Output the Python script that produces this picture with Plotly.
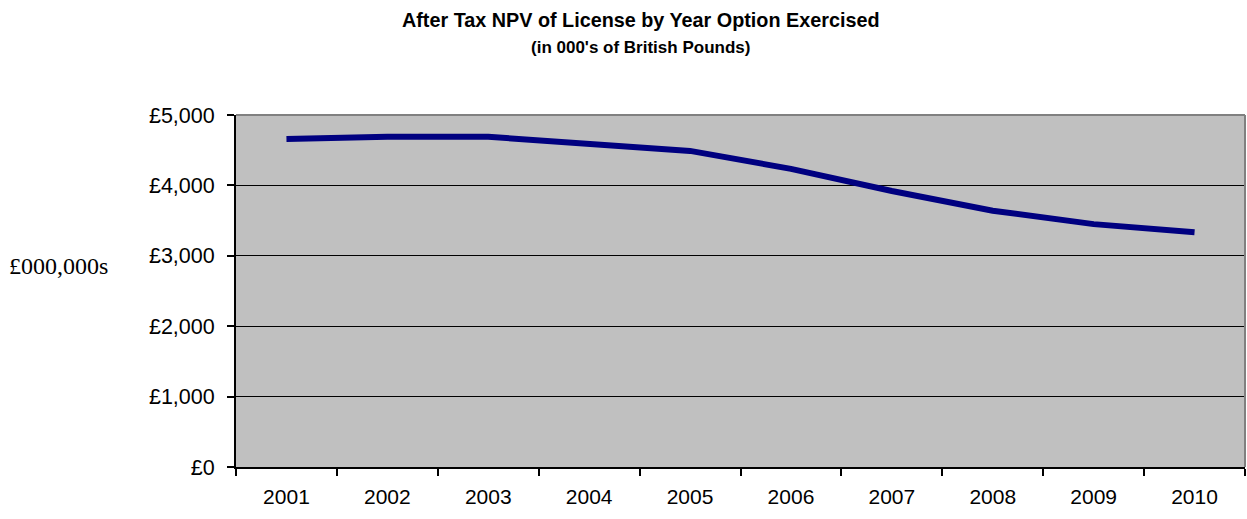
import plotly.graph_objects as go

years = ["2001", "2002", "2003", "2004", "2005", "2006", "2007", "2008", "2009", "2010"]
npv = [4660, 4690, 4690, 4600, 4490, 4235, 3920, 3640, 3450, 3335]
y_ticks = [0, 1000, 2000, 3000, 4000, 5000]
y_labels = ["£0", "£1,000", "£2,000", "£3,000", "£4,000", "£5,000"]

fig = go.Figure()
fig.add_trace(go.Scatter(
    x=years, y=npv, mode="lines",
    line=dict(color="#000080", width=6),
    hoverinfo="skip", showlegend=False,
))

fig.update_layout(
    width=1247, height=519,
    margin=dict(l=236, r=2, t=115, b=52),
    paper_bgcolor="white", plot_bgcolor="#C0C0C0",
    font=dict(family="Liberation Sans, Arial", color="black", size=21),
    showlegend=False,
)
fig.update_xaxes(
    type="category", range=[-0.5, 9.5],
    tickson="boundaries", ticks="outside", ticklen=7, tickwidth=2, tickcolor="black",
    showline=True, linecolor="black", linewidth=2,
    showgrid=False, zeroline=False,
    tickfont=dict(size=21), ticklabelstandoff=10,
)
fig.update_yaxes(
    range=[0, 5000], tickvals=y_ticks, ticktext=y_labels,
    ticks="outside", ticklen=7, tickwidth=2, tickcolor="black",
    showline=True, linecolor="black", linewidth=2,
    showgrid=True, gridcolor="black", gridwidth=1,
    zeroline=False, tickfont=dict(size=21.5), ticklabelstandoff=8,
)
# top & right plot border in grey
fig.add_shape(type="line", xref="paper", yref="paper", x0=0, x1=1, y0=1, y1=1,
              line=dict(color="#808080", width=2))
fig.add_shape(type="line", xref="paper", yref="paper", x0=1, x1=1, y0=0, y1=1,
              line=dict(color="#808080", width=2))

fig.add_annotation(text="<b>After Tax NPV of License by Year Option Exercised</b>",
                   xref="paper", yref="paper", x=(640-236)/1009, y=1,
                   yshift=95, showarrow=False, font=dict(size=19.8, family="Liberation Sans, Arial"),
                   xanchor="center", yanchor="middle")
fig.add_annotation(text="<b>(in 000's of British Pounds)</b>",
                   xref="paper", yref="paper", x=(640-236)/1009, y=1,
                   yshift=68, showarrow=False, font=dict(size=17, family="Liberation Sans, Arial"),
                   xanchor="center", yanchor="middle")
fig.add_annotation(text="£000,000s", xref="paper", yref="paper",
                   x=(58-236)/1009, y=(467-266)/352, showarrow=False,
                   font=dict(size=24, family="Liberation Serif, Times New Roman"),
                   xanchor="center", yanchor="middle")

fig.write_html("out.html")
